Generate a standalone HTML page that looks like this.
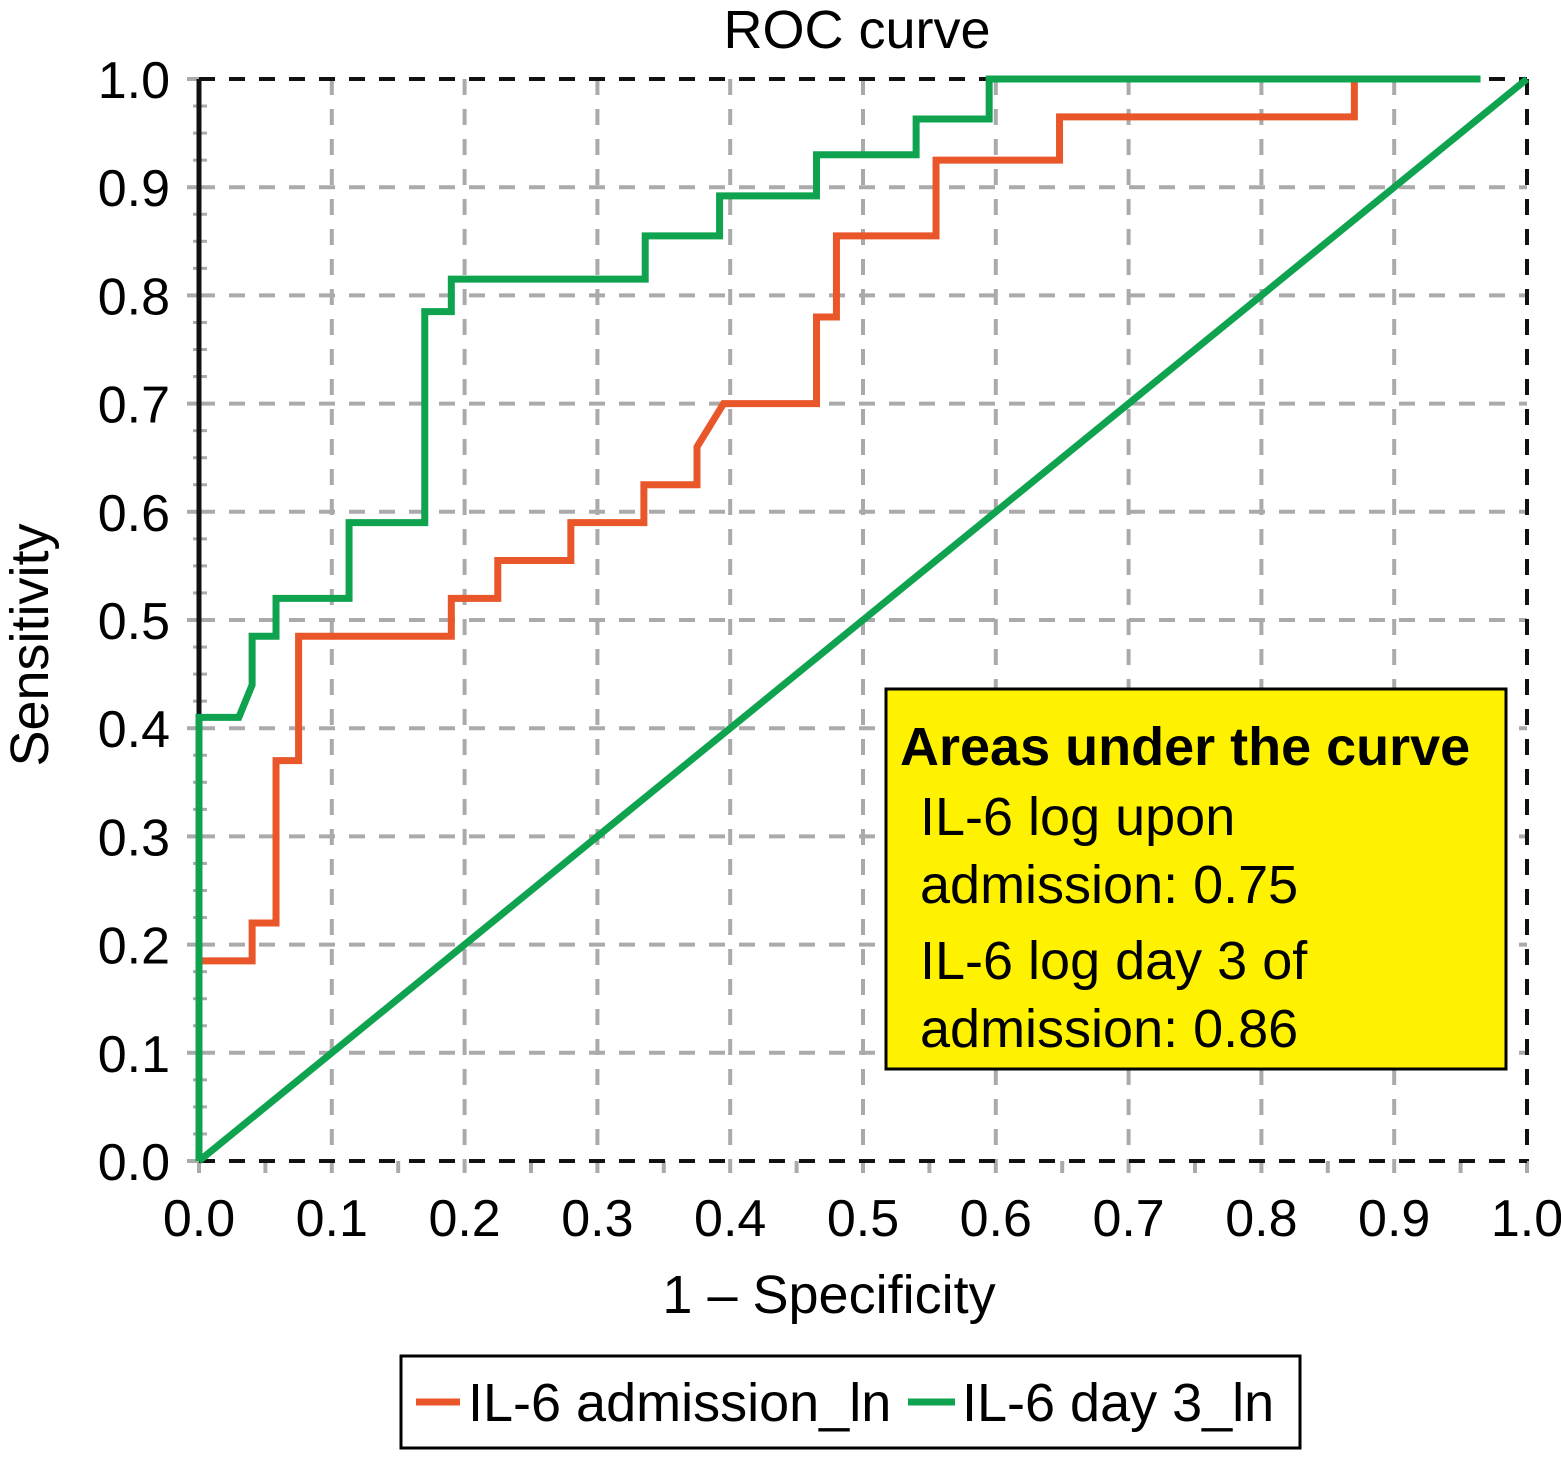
<!DOCTYPE html>
<html><head><meta charset="utf-8"><style>
body{margin:0;background:#fff;}
svg text{font-family:"Liberation Sans",sans-serif;fill:#000;}
</style></head><body>
<svg id="chart" width="1561" height="1452" xmlns="http://www.w3.org/2000/svg">
<text x="857" y="48" font-size="54" text-anchor="middle">ROC curve</text>
<g id="grid"></g>
<g id="ticks"></g>
<g id="series"></g>
<text x="829" y="1313" font-size="54" text-anchor="middle">1 – Specificity</text>
<text transform="translate(48,645) rotate(-90)" font-size="54" text-anchor="middle">Sensitivity</text>
<g>
<rect x="886" y="689" width="620" height="380" fill="#fff200" stroke="#000" stroke-width="3"/>
<text x="900" y="765" font-size="54" font-weight="bold">Areas under the curve</text>
<text x="920" y="835" font-size="54">IL-6 log upon</text>
<text x="920" y="903" font-size="54">admission: 0.75</text>
<text x="920" y="979" font-size="54">IL-6 log day 3 of</text>
<text x="920" y="1047" font-size="54">admission: 0.86</text>
</g>
<g>
<rect x="401" y="1356" width="899" height="92" fill="#fff" stroke="#000" stroke-width="3"/>
<line x1="416" y1="1402" x2="460" y2="1402" stroke="#e8562a" stroke-width="7"/>
<text x="468" y="1421" font-size="54">IL-6 admission_ln</text>
<line x1="908" y1="1402" x2="955" y2="1402" stroke="#0fa350" stroke-width="7"/>
<text x="962" y="1421" font-size="54">IL-6 day 3_ln</text>
</g>
</svg>
<script>
const ticks = [0,0.1,0.2,0.3,0.4,0.5,0.6,0.7,0.8,0.9,1.0];
const tickLabels = ["0.0","0.1","0.2","0.3","0.4","0.5","0.6","0.7","0.8","0.9","1.0"];
const admX = [0,0,0.04,0.04,0.058,0.058,0.075,0.075,0.19,0.19,0.225,0.225,0.28,0.28,0.335,0.335,0.375,0.375,0.395,0.465,0.465,0.48,0.48,0.555,0.555,0.648,0.648,0.87,0.87];
const admY = [0.185,0.185,0.185,0.22,0.22,0.37,0.37,0.485,0.485,0.52,0.52,0.555,0.555,0.59,0.59,0.625,0.625,0.66,0.70,0.70,0.78,0.78,0.855,0.855,0.925,0.925,0.965,0.965,1.0];
const d3X = [0,0,0.03,0.04,0.04,0.058,0.058,0.113,0.113,0.17,0.17,0.19,0.19,0.336,0.336,0.392,0.392,0.465,0.465,0.54,0.54,0.595,0.595,0.965];
const d3Y = [0,0.41,0.41,0.44,0.485,0.485,0.52,0.52,0.59,0.59,0.785,0.785,0.815,0.815,0.855,0.855,0.892,0.892,0.93,0.93,0.963,0.963,1.0,1.0];
const refX = [0,1];
const refY = [0,1];

const X0=199,X1=1527,Y0=1161,Y1=79;
const sx=v=>X0+v*(X1-X0);
const sy=v=>Y0-v*(Y0-Y1);
const NS="http://www.w3.org/2000/svg";
function mk(tag,attrs,parent){const e=document.createElementNS(NS,tag);for(const k in attrs)e.setAttribute(k,attrs[k]);parent.appendChild(e);return e;}
const grid=document.getElementById('grid'),tk=document.getElementById('ticks'),ser=document.getElementById('series');
ticks.forEach((t,i)=>{
  const v=mk('line',{x1:sx(t),x2:sx(t),y1:Y1,y2:Y0,stroke:'#aaa','stroke-width':4,'stroke-dasharray':'16,14'},grid);
  
  
  const h=mk('line',{x1:X0,x2:X1,y1:sy(t),y2:sy(t),stroke:'#aaa','stroke-width':4,'stroke-dasharray':'16,14'},grid);
  
  
  const xl=mk('text',{x:sx(t),y:1236,'font-size':52,'text-anchor':'middle'},tk);xl.textContent=tickLabels[i];
  
  
  const yl=mk('text',{x:170,y:sy(t)+19,'font-size':52,'text-anchor':'end'},tk);yl.textContent=tickLabels[i];
  
  
  mk('line',{x1:sx(t),x2:sx(t),y1:Y0,y2:Y0+12,stroke:'#aaa','stroke-width':4},tk);
  mk('line',{x1:X0-12,x2:X0,y1:sy(t),y2:sy(t),stroke:'#aaa','stroke-width':4},tk);
});
for(let i=0;i<40;i++){const t=i*0.025;if(i%4)mk('line',{x1:X0-6,x2:X0+8,y1:sy(t),y2:sy(t),stroke:'#aaa','stroke-width':3},tk);}
for(let i=0;i<10;i++){const t=i*0.1+0.05;mk('line',{x1:sx(t),x2:sx(t),y1:Y0,y2:Y0+12,stroke:'#aaa','stroke-width':4},tk);}
mk('line',{x1:X0,x2:X1,y1:Y1,y2:Y1,stroke:'#111','stroke-width':4,'stroke-dasharray':'16,14'},tk);
mk('line',{x1:X1,x2:X1,y1:Y1,y2:Y0,stroke:'#111','stroke-width':4,'stroke-dasharray':'16,14'},tk);
mk('line',{x1:X0,x2:X1,y1:Y0,y2:Y0,stroke:'#111','stroke-width':4,'stroke-dasharray':'16,14'},tk);
mk('line',{x1:X0,x2:X0,y1:Y1,y2:Y0,stroke:'#111','stroke-width':5},tk);
function line(xs,ys,color,name){
  const p=mk('polyline',{points:xs.map((x,i)=>sx(x)+','+sy(ys[i])).join(' '),fill:'none',stroke:color,'stroke-width':7,'stroke-linejoin':'miter'},ser);
  
  
}
line(refX,refY,'#0fa350','reference-line');
line(admX,admY,'#e8562a','admission-curve');
line(d3X,d3Y,'#0fa350','day3-curve');
</script>
</body></html>
